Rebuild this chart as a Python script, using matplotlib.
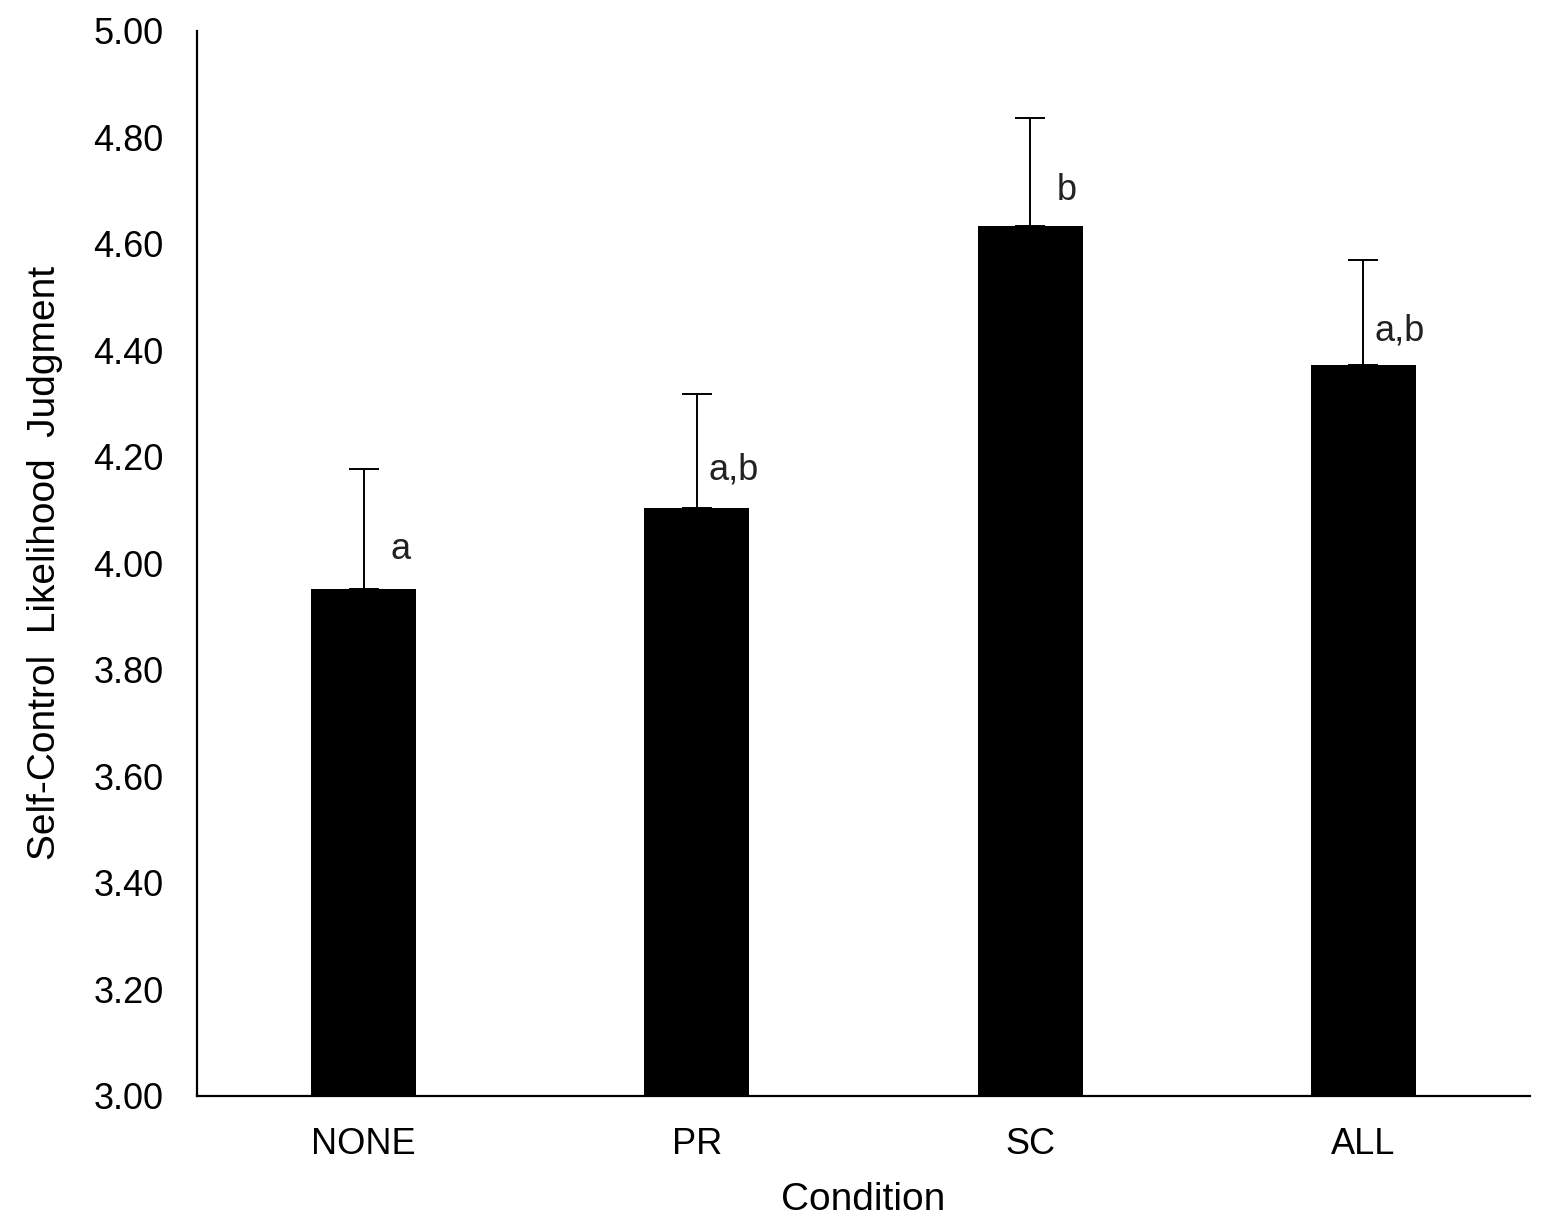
import numpy as np
import matplotlib
matplotlib.use("Agg")
import matplotlib.pyplot as plt

plt.rcParams['font.family'] = ['Liberation Sans', 'DejaVu Sans']

# data
conditions = ["NONE", "PR", "SC", "ALL"]
means = [3.952, 4.104, 4.634, 4.372]
errors = [0.225, 0.214, 0.203, 0.197]
letters = ["a", "a,b", "b", "a,b"]

fig = plt.figure(figsize=(15.54, 12.31), dpi=100)
ax = fig.add_axes([0.1268, 0.1097, 0.8578, 0.8653])

x = np.arange(len(conditions))
ax.bar(x, [m - 3.0 for m in means], bottom=3.0, width=0.315, color="black")
ax.errorbar(x, means, yerr=[[0] * len(errors), errors], fmt="none",
            ecolor="black", elinewidth=1.4, capsize=11, capthick=1.4)

# significance letters beside the error bars
for i in range(len(conditions)):
    ax.text(x[i] + 0.11, means[i] + errors[i] * 0.33, letters[i],
            fontsize=26, color="#222222", ha="center", va="center")

ax.set_xlim(-0.5, 3.5)
ax.set_ylim(3.0, 5.0)
ax.set_yticks(np.arange(3.0, 5.01, 0.2))
ax.set_yticklabels([f"{v:.2f}" for v in np.arange(3.0, 5.01, 0.2)])
ax.set_xticks(x)
ax.set_xticklabels(conditions)
ax.tick_params(axis="both", length=0, labelsize=26)
ax.tick_params(axis="y", pad=24)
ax.tick_params(axis="x", pad=22)

for side in ["top", "right"]:
    ax.spines[side].set_visible(False)
for side in ["left", "bottom"]:
    ax.spines[side].set_linewidth(1.6)

ax.set_xlabel("Condition", fontsize=28, labelpad=15)
ax.set_ylabel("Self-Control  Likelihood  Judgment", fontsize=28, labelpad=22)

fig.savefig("out.png", dpi=100)
